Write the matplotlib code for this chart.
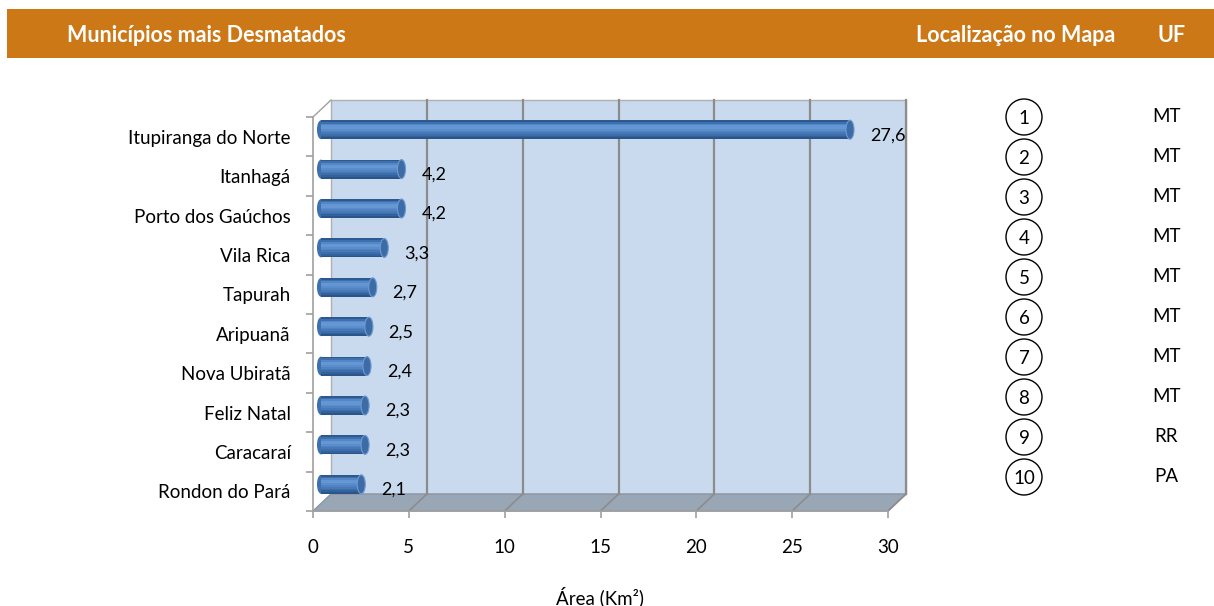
import matplotlib.pyplot as plt
import numpy as np
import matplotlib.transforms as mtransforms
from matplotlib.patches import Rectangle, Polygon, Ellipse, Circle

# ------------------------------
# Data
# ------------------------------
municipios = ["Itupiranga do Norte", "Itanhagá", "Porto dos Gaúchos", "Vila Rica",
              "Tapurah", "Aripuanã", "Nova Ubiratã", "Feliz Natal", "Caracaraí",
              "Rondon do Pará"]
area = [27.6, 4.2, 4.2, 3.3, 2.7, 2.5, 2.4, 2.3, 2.3, 2.1]
posicao = [1, 2, 3, 4, 5, 6, 7, 8, 9, 10]
uf = ["MT", "MT", "MT", "MT", "MT", "MT", "MT", "MT", "RR", "PA"]
xticks = [0, 5, 10, 15, 20, 25, 30]

plt.rcParams['font.family'] = ['Lato', 'DejaVu Sans']

W, H = 1214, 606
fig = plt.figure(figsize=(W / 100, H / 100), dpi=100)

# overlay axes in pixel units for the header and the right-hand table
ov = fig.add_axes([0, 0, 1, 1], zorder=0)
ov.set_xlim(0, W)
ov.set_ylim(H, 0)
ov.axis('off')

ov.add_patch(Rectangle((7, 9), W - 7, 49, color='#CD7817', lw=0))
ov.text(67, 36, "Municípios mais Desmatados", color='white', fontsize=15.5,
        fontweight='bold', va='center', ha='left')
ov.text(1016, 35, "Localização no Mapa", color='white', fontsize=15.5,
        fontweight='bold', va='center', ha='center')
ov.text(1172, 35, "UF", color='white', fontsize=15.5,
        fontweight='bold', va='center', ha='center')

for i, (p, u) in enumerate(zip(posicao, uf)):
    yc = 117 + 40 * i
    ov.add_patch(Circle((1024, yc), 18, facecolor='none', edgecolor='black', lw=1))
    ov.text(1024, yc + 1, str(p), fontsize=13.5, ha='center', va='center')
    ov.text(1166, yc, u, fontsize=13.5, ha='center', va='center')

# ------------------------------
# Main chart (front plane of the 3D box)
# ------------------------------
ax = fig.add_axes([313 / W, 1 - 511 / H, 575 / W, 394 / H], zorder=1)
ax.patch.set_alpha(0)
n = len(area)
y = np.arange(n)
ax.set_xlim(0, 30)
ax.set_ylim(n - 0.5, -0.5)

px = fig.dpi_scale_trans
back = ax.transData + mtransforms.ScaledTranslation(18 / 100, 17 / 100, px)
mid = ax.transData + mtransforms.ScaledTranslation(8 / 100, 7 / 100, px)

grid_c = '#8C8C8C'

# back wall
ax.add_patch(Rectangle((0, -0.5), 30, n, transform=back, facecolor='#C9D9EE',
                       edgecolor='#B0B0B0', lw=1, clip_on=False, zorder=0))

# floor
fl = ax.transData.transform([(0, n - 0.5), (30, n - 0.5)])
bk = back.transform([(30, n - 0.5), (0, n - 0.5)])
ax.add_patch(Polygon(np.vstack([fl, bk]), closed=True, transform=mtransforms.IdentityTransform(),
                     facecolor='#98A6B6', edgecolor='#8A96A5', lw=1, clip_on=False, zorder=0.5))

# gridlines on the back wall and their traces on the floor
for xt in xticks[1:]:
    ax.plot([xt, xt], [-0.5, n - 0.5], transform=back, color=grid_c, lw=1.6,
            clip_on=False, zorder=0.6)
    f = ax.transData.transform([(xt, n - 0.5)])[0]
    b = back.transform([(xt, n - 0.5)])[0]
    ax.plot([f[0], b[0]], [f[1], b[1]], transform=mtransforms.IdentityTransform(),
            color=grid_c, lw=1.2, clip_on=False, zorder=0.6)

# left wall edge
f = ax.transData.transform([(0, -0.5)])[0]
b = back.transform([(0, -0.5)])[0]
ax.plot([f[0], b[0]], [f[1], b[1]], transform=mtransforms.IdentityTransform(),
        color='#A0A0A0', lw=1, clip_on=False, zorder=0.6)

# cylinder bars: stacked thin strips give the shading
h = 0.48
profile = ['#2C5990', '#3F70AE', '#5587C6', '#6396D4', '#6497D3', '#5B8DCB',
           '#5183C2', '#4778B7', '#3D6DAA', '#33619C', '#2A5589']
ns = len(profile)
cap_w = 0.42
for i, v in enumerate(area):
    ax.add_patch(Ellipse((0, i), cap_w, h, transform=mid, facecolor='#3F70AE',
                         edgecolor='none', zorder=1.9, clip_on=False))
for k, c in enumerate(profile):
    ys = y - h / 2 + (k + 0.5) * h / ns
    ax.barh(ys, area, height=h / ns * 1.05, color=c, lw=0, transform=mid,
            zorder=2, clip_on=False)
for i, v in enumerate(area):
    ax.add_patch(Ellipse((v, i), cap_w, h, transform=mid, facecolor='#3C6BA6',
                         edgecolor='#6E9AD0', lw=0.8, zorder=2.1, clip_on=False))

# value labels
for i, v in enumerate(area):
    ax.annotate(f"{v:.1f}".replace('.', ','), xy=(v, i), xytext=(20, 1),
                textcoords='offset points', fontsize=13, va='center', ha='left',
                zorder=3, annotation_clip=False)

# axes, ticks and labels
for s in ['top', 'right']:
    ax.spines[s].set_visible(False)
for s in ['left', 'bottom']:
    ax.spines[s].set_color('#A0A0A0')
    ax.spines[s].set_linewidth(1.2)

ax.set_xticks(xticks)
ax.tick_params(axis='x', direction='out', length=5, width=1.2, color='#A0A0A0',
               pad=15, labelsize=13.5)
ax.set_yticks(y)
ax.set_yticklabels(municipios, fontsize=13.5)
ax.tick_params(axis='y', which='major', length=0, pad=16)
ax.set_yticks(np.arange(-0.5, n), minor=True)
ax.tick_params(axis='y', which='minor', direction='out', length=5, width=1.2,
               color='#A0A0A0')

ax.set_xlabel("Área (Km²)", fontsize=13.5, labelpad=22)

fig.savefig("out.png", dpi=100)
